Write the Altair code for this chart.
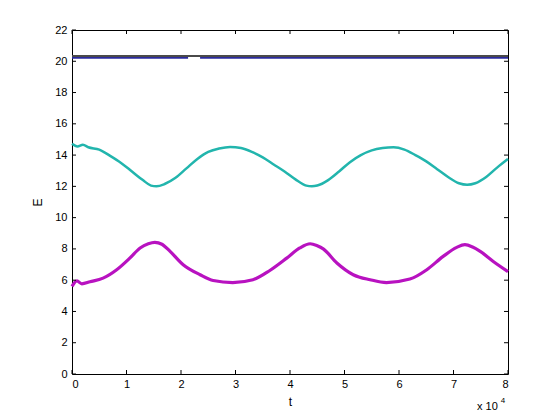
import altair as alt
import pandas as pd

# ---- data (t in units of 1e4) ----
t_cyan = [0.0, 0.1, 0.2, 0.3, 0.5, 0.7, 0.9, 1.1, 1.3, 1.45, 1.55, 1.7, 1.9, 2.1, 2.3, 2.5, 2.7, 2.9,
          3.1, 3.3, 3.5, 3.7, 3.9, 4.1, 4.3, 4.4, 4.5, 4.7, 4.9, 5.1, 5.3, 5.5, 5.7, 5.9,
          6.1, 6.3, 6.5, 6.7, 6.9, 7.1, 7.25, 7.4, 7.6, 7.8, 8.0]
e_cyan = [14.72, 14.55, 14.66, 14.5, 14.35, 13.95, 13.5, 12.95, 12.4, 12.05, 12.0, 12.15, 12.55, 13.15,
          13.75, 14.2, 14.42, 14.52, 14.45, 14.2, 13.85, 13.4, 12.95, 12.45, 12.05, 12.0, 12.05, 12.4,
          12.95, 13.55, 14.0, 14.3, 14.45, 14.5, 14.35, 14.0, 13.6, 13.1, 12.6, 12.2, 12.1, 12.2,
          12.6, 13.2, 13.75]

t_mag = [0.0, 0.09, 0.18, 0.33, 0.57, 0.82, 1.06, 1.25, 1.4, 1.52, 1.65, 1.8, 2.04, 2.35, 2.59, 2.95,
         3.32, 3.63, 3.94, 4.18, 4.37, 4.5, 4.61, 4.86, 5.16, 5.47, 5.77, 6.2, 6.51, 6.81, 7.06, 7.21,
         7.35, 7.49, 7.73, 8.0]
e_mag = [5.6, 5.95, 5.77, 5.9, 6.13, 6.67, 7.41, 8.06, 8.33, 8.42, 8.3, 7.84, 6.99, 6.35, 5.98, 5.85,
         6.03, 6.62, 7.41, 8.06, 8.33, 8.2, 8.0, 7.1, 6.35, 6.03, 5.85, 6.07, 6.67, 7.52, 8.1, 8.27,
         8.12, 7.84, 7.2, 6.55]

t_grey = [0.0, 8.0]
e_grey = [20.33, 20.33]

t_blue = [0.0, 2.13, 2.35, 8.0]
e_blue = [20.23, 20.23, 20.23, 20.23]
seg_blue = [0, 0, 1, 1]

x_ticks = [0, 1, 2, 3, 4, 5, 6, 7, 8]
y_ticks = [0, 2, 4, 6, 8, 10, 12, 14, 16, 18, 20, 22]

W, H = 436, 344
FONT = "Liberation Sans"

xs = alt.Scale(domain=[0, 8], nice=False, zero=False)
ys = alt.Scale(domain=[0, 22], nice=False, zero=False)

x_axis = alt.Axis(values=x_ticks, ticks=False, domain=False, grid=False, labelFontSize=11,
                  labelFont=FONT, labelColor="black", labelPadding=4, title="t",
                  titleFont=FONT, titleFontSize=12, titleFontWeight="normal",
                  titleColor="black", titlePadding=7, format="d")
y_axis = alt.Axis(values=y_ticks, ticks=False, domain=False, grid=False, labelFontSize=11,
                  labelFont=FONT, labelColor="black", labelPadding=5, title="E",
                  titleFont=FONT, titleFontSize=12, titleFontWeight="normal",
                  titleColor="black", titlePadding=10, format="d")

X = lambda f: alt.X(f, type="quantitative", scale=xs, axis=x_axis)
Y = lambda f: alt.Y(f, type="quantitative", scale=ys, axis=y_axis)

df_cyan = pd.DataFrame({"t": t_cyan, "E": e_cyan})
df_mag = pd.DataFrame({"t": t_mag, "E": e_mag})
df_grey = pd.DataFrame({"t": t_grey, "E": e_grey})
df_blue = pd.DataFrame({"t": t_blue, "E": e_blue, "seg": seg_blue})
df_xt = pd.DataFrame({"v": x_ticks})
df_yt = pd.DataFrame({"v": y_ticks})

mag = alt.Chart(df_mag).mark_line(color="#b812c0", strokeWidth=3.2, interpolate="monotone").encode(
    x=X("t"), y=Y("E"))
cyan = alt.Chart(df_cyan).mark_line(color="#22b5ad", strokeWidth=2.5, interpolate="monotone").encode(
    x=X("t"), y=Y("E"))
blue = alt.Chart(df_blue).mark_line(color="#2a2a9c", strokeWidth=2).encode(
    x=X("t"), y=Y("E"), detail="seg:N")
grey = alt.Chart(df_grey).mark_line(color="#4a4a4a", strokeWidth=2).encode(x=X("t"), y=Y("E"))

tk = dict(color="black", strokeWidth=1)
xt_bot = alt.Chart(df_xt).mark_rule(**tk).encode(x=X("v"), y=alt.value(H), y2=alt.value(H - 4))
xt_top = alt.Chart(df_xt).mark_rule(**tk).encode(x=X("v"), y=alt.value(0), y2=alt.value(4))
yt_left = alt.Chart(df_yt).mark_rule(**tk).encode(y=Y("v"), x=alt.value(0), x2=alt.value(4))
yt_right = alt.Chart(df_yt).mark_rule(**tk).encode(y=Y("v"), x=alt.value(W), x2=alt.value(W - 4))

exp_base = alt.Chart(df_xt.head(1)).mark_text(text="x 10", font=FONT, fontSize=11, align="left",
                                               baseline="middle", color="black").encode(
    x=alt.value(405), y=alt.value(377))
exp_pow = alt.Chart(df_xt.head(1)).mark_text(text="4", font=FONT, fontSize=8, align="center",
                                              baseline="middle", color="black").encode(
    x=alt.value(431), y=alt.value(371))

chart = alt.layer(mag, cyan, blue, grey, xt_bot, xt_top, yt_left, yt_right, exp_base, exp_pow).properties(
    width=W, height=H,
    autosize=alt.AutoSizeParams(type="none"),
    padding={"left": 64, "top": 22, "right": 36, "bottom": 40},
    background="white",
).configure_view(stroke="black", strokeWidth=1)

chart.save("out.html", embed_options={"renderer": "svg", "actions": False})
